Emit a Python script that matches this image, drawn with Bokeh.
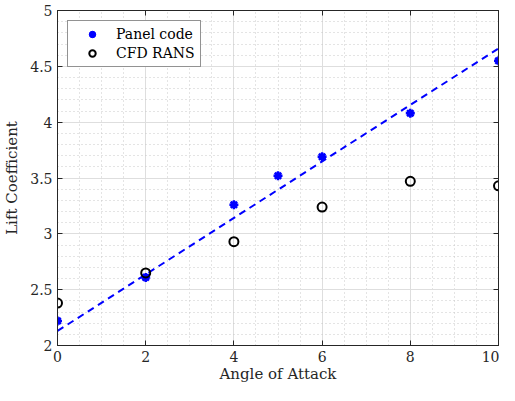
from bokeh.plotting import figure
from bokeh.models import LinearAxis, FixedTicker, Range1d, Legend, LegendItem
from bokeh.embed import file_html
from bokeh.resources import INLINE

# data
panel_aoa = [0, 2, 4, 5, 6, 8, 10]
panel_cl = [2.22, 2.61, 3.26, 3.52, 3.69, 4.08, 4.55]
cfd_aoa = [0, 2, 4, 6, 8, 10]
cfd_cl = [2.38, 2.65, 2.93, 3.24, 3.47, 3.43]
fit_aoa = [0, 10]
fit_cl = [2.13, 4.66]

x_ticks = [0, 2, 4, 6, 8, 10]
y_ticks = [2, 2.5, 3, 3.5, 4, 4.5, 5]
y_tick_labels = ["2", "2.5", "3", "3.5", "4", "4.5", "5"]
x_minor = [i * 0.5 for i in range(0, 21)]
y_minor = [2 + i * 0.1 for i in range(0, 31)]

FONT = "DejaVu Serif"
TXT = "#262626"

p = figure(width=499, height=385, output_backend="svg", toolbar_location=None,
           x_range=Range1d(0, 10), y_range=Range1d(2, 5),
           min_border_left=49, min_border_right=1, min_border_top=10, min_border_bottom=40,
           x_axis_label="Angle of Attack", y_axis_label="Lift Coefficient")
p.outline_line_color = TXT
p.outline_line_width = 1
p.background_fill_color = "white"
p.border_fill_color = "white"

for ax, ticks in ((p.xaxis[0], x_ticks), (p.yaxis[0], y_ticks)):
    ax.ticker = FixedTicker(ticks=ticks, minor_ticks=[])
    ax.major_tick_in = 5
    ax.major_tick_out = 0
    ax.minor_tick_in = 0
    ax.minor_tick_out = 0
    ax.axis_line_color = TXT
    ax.major_tick_line_color = TXT
    ax.major_label_text_font = FONT
    ax.major_label_text_font_size = "14px"
    ax.major_label_text_color = TXT
    ax.axis_label_text_font = FONT
    ax.axis_label_text_font_size = "15px"
    ax.axis_label_text_font_style = "normal"
    ax.axis_label_text_color = TXT
    ax.major_label_standoff = 5

p.xaxis[0].axis_label_standoff = 0
p.yaxis[0].axis_label_standoff = 6
p.yaxis[0].major_label_overrides = {t: l for t, l in zip(y_ticks, y_tick_labels)}

# grids
p.xgrid[0].ticker = FixedTicker(ticks=x_ticks, minor_ticks=x_minor)
p.ygrid[0].ticker = FixedTicker(ticks=y_ticks, minor_ticks=y_minor)
for g in (p.xgrid[0], p.ygrid[0]):
    g.grid_line_color = "#dedede"
    g.grid_line_width = 1
    g.minor_grid_line_color = "#c8c8c8"
    g.minor_grid_line_dash = "1 3"
    g.minor_grid_line_width = 1

# top and right tick-only axes
top = LinearAxis(ticker=FixedTicker(ticks=x_ticks, minor_ticks=[]),
                 major_label_overrides={t: "" for t in x_ticks},
                 major_tick_in=5, major_tick_out=0, minor_tick_in=0, minor_tick_out=0,
                 axis_line_color=TXT, major_tick_line_color=TXT, major_label_standoff=0)
right = LinearAxis(ticker=FixedTicker(ticks=y_ticks, minor_ticks=[]),
                   major_label_overrides={t: "" for t in y_ticks},
                   major_tick_in=5, major_tick_out=0, minor_tick_in=0, minor_tick_out=0,
                   axis_line_color=TXT, major_tick_line_color=TXT, major_label_standoff=0)
p.add_layout(top, "above")
p.add_layout(right, "right")

p.line(fit_aoa, fit_cl, line_color="#0000ff", line_width=2, line_dash="7 5")
r1 = p.scatter(panel_aoa, panel_cl, marker="asterisk", size=9, line_color="#0000ff", line_width=2.5)
r1b = p.scatter(panel_aoa, panel_cl, marker="circle", size=6, fill_color="#0000ff", line_color="#0000ff")
r2 = p.scatter(cfd_aoa, cfd_cl, marker="circle", size=9, fill_color=None, line_color="black", line_width=2)

legend = Legend(items=[LegendItem(label="Panel code", renderers=[r1, r1b]),
                       LegendItem(label="CFD RANS", renderers=[r2])],
                location="top_left", margin=10, padding=5, spacing=3,
                glyph_width=38, glyph_height=16, label_height=16, label_standoff=5,
                label_text_font=FONT, label_text_font_size="14px", label_text_color="black",
                border_line_color=TXT, border_line_width=1, background_fill_color="white",
                background_fill_alpha=1)
p.add_layout(legend)

open("out.html", "w").write(file_html(p, INLINE))
